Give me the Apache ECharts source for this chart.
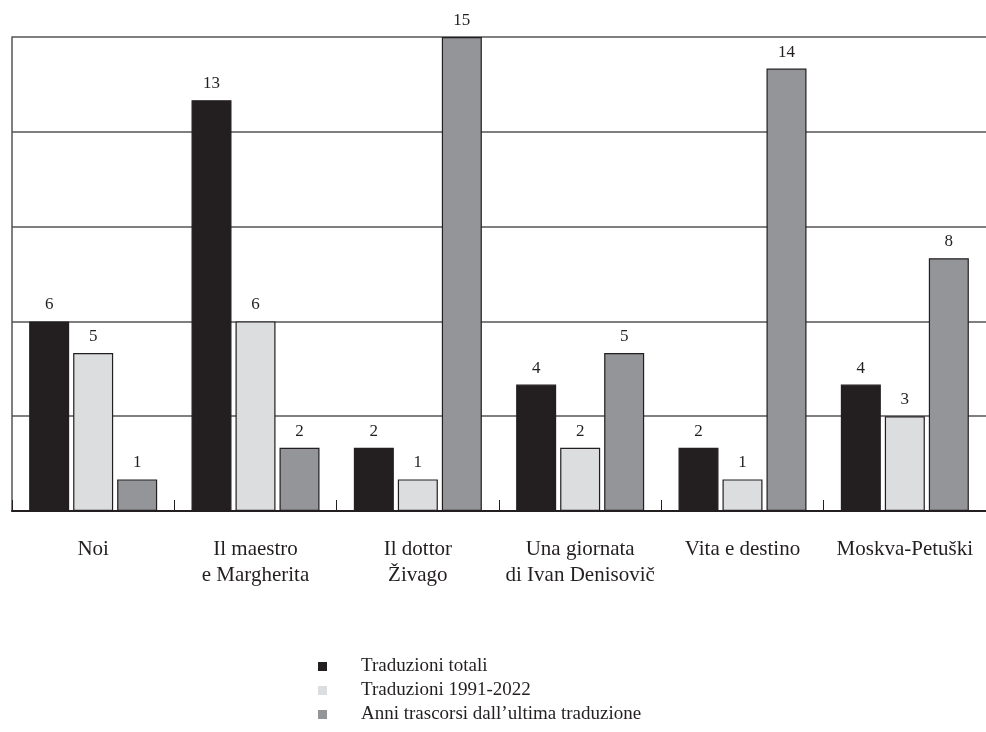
<!DOCTYPE html>
<html>
<head>
<meta charset="utf-8">
<script src="https://cdn.jsdelivr.net/npm/echarts@6/dist/echarts.min.js"></script>
<style>
  html, body { margin: 0; padding: 0; background: #ffffff; }
  #chart { width: 986px; height: 732px; }
</style>
</head>
<body>
<div id="chart"></div>
<script>
// Romanzi russi in traduzione italiana
const categories = [
  'Noi',
  'Il maestro\ne Margherita',
  'Il dottor\nŽivago',
  'Una giornata\ndi Ivan Denisovič',
  'Vita e destino',
  'Moskva-Petuški'
];
const seriesNames = [
  'Traduzioni totali',
  'Traduzioni 1991-2022',
  'Anni trascorsi dall’ultima traduzione'
];
const traduzioniTotali = [6, 13, 2, 4, 2, 4];
const traduzioni19912022 = [5, 6, 1, 2, 1, 3];
const anniTrascorsi = [1, 2, 15, 5, 14, 8];

const serifFont = '"Liberation Serif", "DejaVu Serif", serif';
const ink = '#231f20';
const fills = ['#231f20', '#dcdddf', '#939598'];
const values = [traduzioniTotali, traduzioni19912022, anniTrascorsi];

const chart = echarts.init(document.getElementById('chart'), null, { renderer: 'canvas' });

chart.setOption({
  animation: false,
  backgroundColor: '#ffffff',
  grid: { left: 12, right: -7, top: 37, bottom: 221 },
  legend: {
    orient: 'vertical',
    left: 313,
    top: 652,
    itemWidth: 9,
    itemHeight: 9,
    itemGap: 5,
    icon: 'rect',
    itemStyle: { borderWidth: 0 },
    textStyle: {
      fontFamily: serifFont,
      fontSize: 19,
      color: ink,
      padding: [0, 0, 0, 29]
    },
    data: seriesNames
  },
  xAxis: {
    type: 'category',
    data: categories,
    axisLine: { lineStyle: { color: ink, width: 2 } },
    axisTick: { show: true, inside: true, interval: 0, length: 11, lineStyle: { color: ink, width: 1 } },
    axisLabel: {
      interval: 0,
      fontFamily: serifFont,
      fontSize: 21,
      color: ink,
      lineHeight: 26,
      margin: 25
    }
  },
  yAxis: {
    type: 'value',
    min: 0,
    max: 15,
    interval: 3,
    axisLine: { show: true, lineStyle: { color: '#555555', width: 1.5 } },
    axisTick: { show: false },
    axisLabel: { show: false },
    splitLine: { lineStyle: { color: '#555555', width: 1.5 } }
  },
  series: seriesNames.map((name, i) => ({
    name: name,
    type: 'bar',
    data: values[i],
    barWidth: 40,
    barGap: '10%',
    itemStyle: { color: fills[i], borderColor: ink, borderWidth: 1.2 },
    label: {
      show: true,
      position: 'top',
      distance: 8,
      fontFamily: serifFont,
      fontSize: 17,
      color: ink
    }
  }))
});
</script>
</body>
</html>
